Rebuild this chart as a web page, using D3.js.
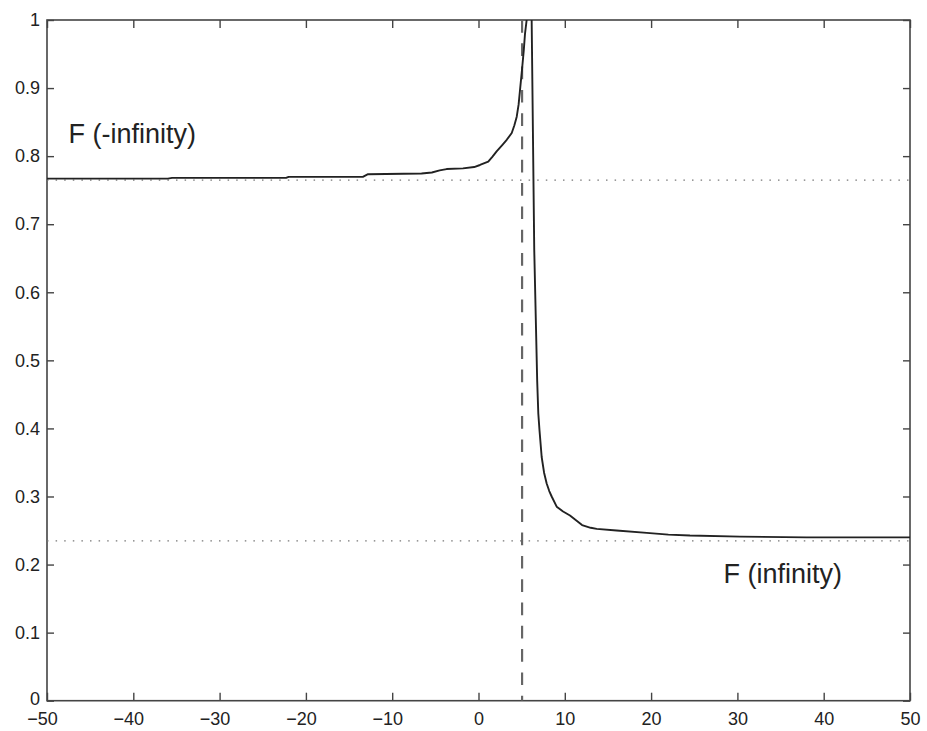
<!DOCTYPE html>
<html>
<head>
<meta charset="utf-8">
<script src="https://cdn.jsdelivr.net/npm/d3@7"></script>
<style>
  body { margin: 0; background: #fff; }
  text { font-family: "Liberation Sans", Arial, Helvetica, sans-serif; }
</style>
</head>
<body>
<script>
// values
var xTicks = [-50, -40, -30, -20, -10, 0, 10, 20, 30, 40, 50];
var yTicks = [0, 0.1, 0.2, 0.3, 0.4, 0.5, 0.6, 0.7, 0.8, 0.9, 1];

var leftBranch = [
  [-50, 0.767], [-36, 0.767], [-35.5, 0.768], [-22.3, 0.768], [-22, 0.7696],
  [-13.4, 0.7696], [-12.8, 0.7735], [-6.6, 0.7746], [-5.4, 0.776], [-4.5, 0.779],
  [-3.7, 0.781], [-1.8, 0.782], [-0.5, 0.784], [0.17, 0.787], [1.13, 0.792],
  [1.6, 0.799], [2.1, 0.807], [2.8, 0.817], [3.27, 0.824], [3.85, 0.834],
  [4.15, 0.845], [4.43, 0.858], [4.65, 0.876], [4.81, 0.897], [5.07, 0.931],
  [5.25, 0.956], [5.39, 0.98], [5.58, 1.0], [5.7, 1.02]
];
var rightBranch = [
  [6.14, 1.02], [6.16, 1.0], [6.46, 0.662], [6.8, 0.47], [6.93, 0.422],
  [7.07, 0.397], [7.32, 0.358], [7.6, 0.335], [7.9, 0.319], [8.2, 0.308],
  [8.48, 0.30], [9.06, 0.285], [9.8, 0.278], [10.6, 0.272], [11.3, 0.265],
  [12, 0.258], [13, 0.254], [13.7, 0.2525], [16, 0.250], [19.5, 0.2466],
  [22, 0.244], [24.5, 0.2426], [30.3, 0.241], [38, 0.240], [50, 0.240]
];

var fMinusInf = 0.7647;
var fInf = 0.2348;
var xSing = 5.05;

var labels = [
  {text: "F (-infinity)", x: -47.5, y: 0.819},
  {text: "F (infinity)", x: 28.4, y: 0.1725}
];

var W = 927, H = 731;
var margin = {top: 20, right: 17, bottom: 30.3, left: 47};
var w = W - margin.left - margin.right;
var h = H - margin.top - margin.bottom;

var svg = d3.select("body").append("svg")
  .attr("width", W)
  .attr("height", H);

var g = svg.append("g")
  .attr("transform", "translate(" + margin.left + "," + margin.top + ")");

var x = d3.scaleLinear().domain([-50, 50]).range([0, w]);
var y = d3.scaleLinear().domain([0, 1]).range([h, 0]);

g.append("clipPath").attr("id", "clip")
  .append("rect").attr("width", w).attr("height", h);

var axisCol = "#444";

function fmtX(d) { return d < 0 ? "\u2212" + Math.abs(d) : String(d); }
function fmtY(d) { return String(d); }

// bottom axis
var gb = g.append("g").attr("transform", "translate(0," + h + ")")
  .call(d3.axisBottom(x).tickValues(xTicks).tickFormat(fmtX).tickSize(-8).tickSizeOuter(0).tickPadding(11.5));
gb.selectAll("text").attr("dx", function(d){ return d < 0 ? -5 : 0; });
// top axis
var gt = g.append("g")
  .call(d3.axisTop(x).tickValues(xTicks).tickFormat("").tickSize(-8).tickSizeOuter(0));
// left axis
var gl = g.append("g")
  .call(d3.axisLeft(y).tickValues(yTicks).tickFormat(fmtY).tickSize(-7).tickSizeOuter(0).tickPadding(7));
// the "0" label sits a touch higher so it clears "-50"
gl.selectAll("text").filter(function(d){ return d === 0; }).attr("dy", "0.2em");
// right axis
var gr = g.append("g").attr("transform", "translate(" + w + ",0)")
  .call(d3.axisRight(y).tickValues(yTicks).tickFormat("").tickSize(-7).tickSizeOuter(0));

[gb, gt, gl, gr].forEach(function(a){
  a.select(".domain").remove();
  a.selectAll("line").attr("stroke", axisCol).attr("stroke-width", 1.4);
  a.selectAll("text").attr("fill", "#222").style("font-size", "18px");
});

g.append("rect")
  .attr("width", w).attr("height", h)
  .attr("fill", "none").attr("stroke", axisCol).attr("stroke-width", 1.6);

var plot = g.append("g").attr("clip-path", "url(#clip)");

// dotted asymptotes
[fMinusInf, fInf].forEach(function(v){
  plot.append("line")
    .attr("x1", 0).attr("x2", w)
    .attr("y1", y(v)).attr("y2", y(v))
    .attr("stroke", "#777").attr("stroke-width", 1.3)
    .attr("stroke-dasharray", "1.5,7.1");
});

// dashed vertical
plot.append("line")
  .attr("x1", x(xSing)).attr("x2", x(xSing))
  .attr("y1", 0).attr("y2", h)
  .attr("stroke", "#666").attr("stroke-width", 2.2)
  .attr("stroke-dasharray", "12.7,10.6");

var line = d3.line()
  .x(function(d){ return x(d[0]); })
  .y(function(d){ return y(d[1]); });

[leftBranch, rightBranch].forEach(function(b){
  plot.append("path")
    .datum(b)
    .attr("d", line)
    .attr("fill", "none")
    .attr("stroke", "#222")
    .attr("stroke-width", 1.9)
    .attr("stroke-linejoin", "round");
});

g.selectAll(".lab").data(labels).enter().append("text")
  .attr("class", "lab")
  .attr("x", function(d){ return x(d.x); })
  .attr("y", function(d){ return y(d.y); })
  .attr("fill", "#222")
  .style("font-size", "27px")
  .text(function(d){ return d.text; });
</script>
</body>
</html>
